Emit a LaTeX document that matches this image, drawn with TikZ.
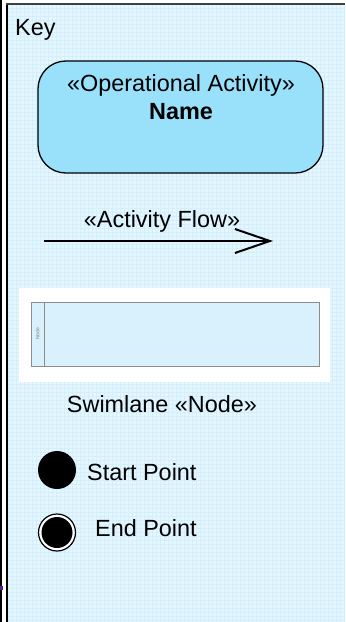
\documentclass[tikz,border=0pt]{standalone}
\usepackage{fontspec}
\setmainfont{Liberation Sans}
\usetikzlibrary{arrows.meta}
\definecolor{keybg}{HTML}{E6F6FE}
\definecolor{keygrid}{HTML}{D4EFFC}
\definecolor{actfill}{HTML}{99E1FB}
\definecolor{lanefill}{HTML}{D9F1FC}
\definecolor{lanedraw}{HTML}{8C8C8C}
\definecolor{frametop}{HTML}{404040}
\definecolor{tickmark}{HTML}{5B1E8C}
\begin{document}
\begin{tikzpicture}[x=1bp,y=-1bp,
  keytext/.style={font=\fontsize{23.5}{27}\selectfont, inner sep=0pt},
  activitybox/.style={draw, fill=actfill, line width=1.3pt, rounded corners=28pt,
    minimum width=285bp, minimum height=112bp, inner sep=0pt},
  flowline/.style={line width=2pt, -{Straight Barb[length=35bp,width=24bp,line width=2pt]}},
  lane/.style={draw=lanedraw, fill=lanefill, line width=0.9pt},
  startdot/.style={circle, fill=black, minimum size=38bp, inner sep=0pt},
  endring/.style={circle, draw, line width=1.2pt, fill=white, minimum size=37bp, inner sep=0pt},
  enddot/.style={circle, fill=black, minimum size=31bp, inner sep=0pt},
  gridline/.style={keygrid, line width=1bp},
]
\useasboundingbox (0,0) rectangle (345,622);

% key panel background with its fine grid texture
\fill[keybg] (6,4) rectangle (345,622);
\foreach \gx in {8.5,12.5,...,344.5} \draw[gridline] (\gx,5) -- (\gx,622);
\foreach \gy in {8.5,12.5,...,620.5} \draw[gridline] (7,\gy) -- (345,\gy);

% frame lines
\draw[line width=2bp] (1,0) -- (1,622);
\draw[line width=2bp] (6.5,622) -- (6.5,4.5);
\draw[frametop, line width=2bp] (5.5,4.5) -- (345,4.5);
\fill[tickmark] (0,586) rectangle (3,590);

% title
\node[keytext, anchor=base west] (key) at (15,36) {Key};

% operational activity
\node[activitybox] (act) at (180.5,117) {};
\node[keytext, anchor=base] (actstereo) at (181,92) {«Operational Activity»};
\node[keytext, anchor=base, font=\fontsize{23.5}{27}\selectfont\bfseries] (actname) at (181,120) {Name};

% activity flow
\coordinate (flowstart) at (44,241);
\coordinate (flowend) at (273,241);
\draw[flowline] (flowstart) -- (flowend);
\node[keytext, anchor=base] (flowlabel) at (162,227) {«Activity Flow»};

% swimlane
\fill[white] (19,288) rectangle (330,382);
\draw[lane] (31,302) rectangle (319,366);
\draw[lanedraw, line width=0.9pt] (44,302) -- (44,366);
\node[rotate=90, font=\fontsize{5}{6}\selectfont, text=gray, inner sep=0pt] (lanename) at (37.5,334) {Node};
\node[keytext, anchor=base] (lanelabel) at (162,412) {Swimlane «Node»};

% start and end points
\node[startdot] (start) at (57,470) {};
\node[keytext, anchor=base west] (startlabel) at (87,480) {Start Point};
\node[endring] (endo) at (57,532.5) {};
\node[enddot] (endi) at (57,532.5) {};
\node[keytext, anchor=base west] (endlabel) at (95,536) {End Point};
\end{tikzpicture}
\end{document}
